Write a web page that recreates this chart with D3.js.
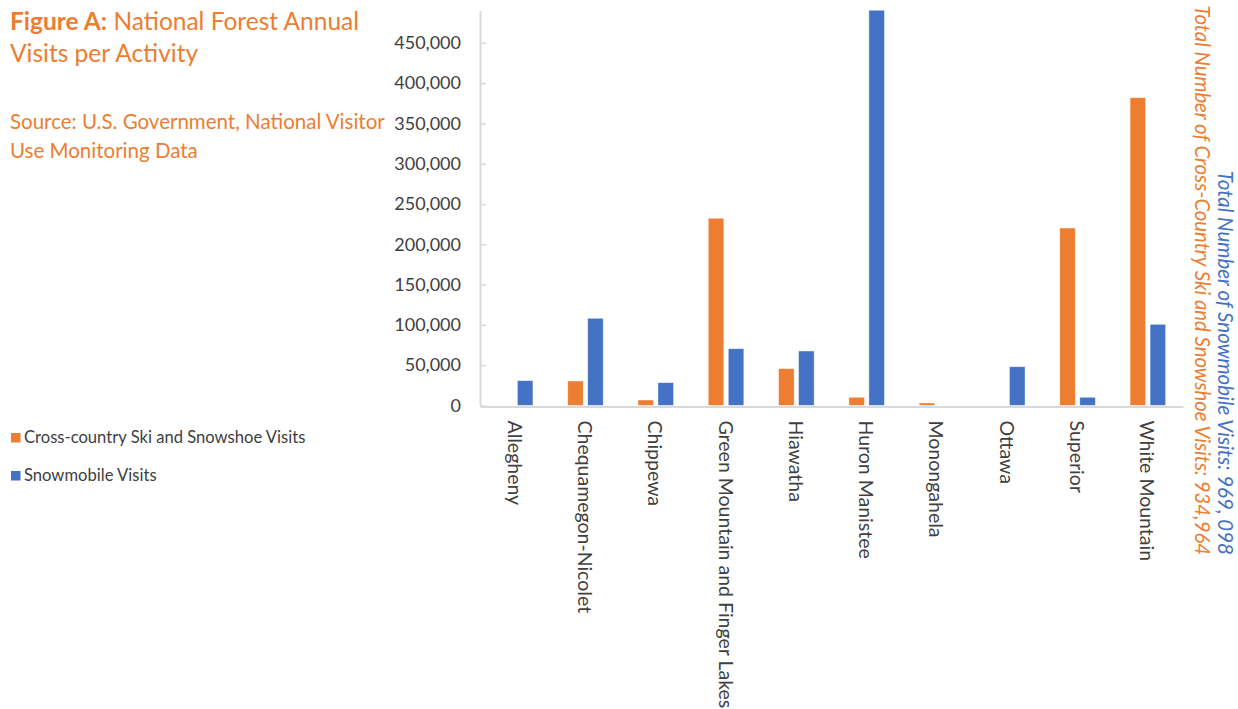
<!DOCTYPE html>
<meta charset="utf-8">
<head>
  <script src="https://d3js.org/d3.v7.min.js"></script>
  <style>
    body { margin: 0; background: #fff; }
    text { font-family: Lato, "Liberation Sans", sans-serif; }
  </style>
</head>
<body>
  <div id="my_dataviz"></div>
</body>
<script>
  // data
  var forests = ["Allegheny", "Chequamegon-Nicolet", "Chippewa", "Green Mountain and Finger Lakes",
    "Hiawatha", "Huron Manistee", "Monongahela", "Ottawa", "Superior", "White Mountain"];
  var skiVisits = [0, 30400, 6800, 232300, 45700, 10200, 3100, 0, 220200, 381900];
  var snowmobileVisits = [30800, 108200, 28300, 70500, 67600, 504700, 0, 48100, 10200, 100700];
  var seriesNames = ["Cross-country Ski and Snowshoe Visits", "Snowmobile Visits"];
  var yTicks = [0, 50000, 100000, 150000, 200000, 250000, 300000, 350000, 400000, 450000];
  var totalSki = "Total Number of Cross-Country Ski and Snowshoe Visits: 934,964";
  var totalSnow = "Total Number of Snowmobile Visits: 969, 098";

  var orange = "#ED7D31", blue = "#4472C4", axisGrey = "#d9d9d9", labelGrey = "#404040";

  var width = 1238, height = 709;
  var plot = { left: 480, right: 1183, top: 10.6, bottom: 405.5 };

  var svg = d3.select("#my_dataviz")
    .append("svg")
    .attr("width", width)
    .attr("height", height);

  // title + source
  var title = svg.append("text").attr("x", 10).attr("y", 30)
    .attr("fill", orange).style("font-size", "24.5px");
  title.append("tspan").style("font-weight", "bold").text("Figure A:");
  title.append("tspan").text(" National Forest Annual");
  svg.append("text").attr("x", 10).attr("y", 62).attr("fill", orange)
    .style("font-size", "24.5px").text("Visits per Activity");
  svg.append("text").attr("x", 10).attr("y", 129).attr("fill", orange)
    .style("font-size", "20.5px").text("Source: U.S. Government, National Visitor");
  svg.append("text").attr("x", 10).attr("y", 158).attr("fill", orange)
    .style("font-size", "20.5px").text("Use Monitoring Data");

  // scales
  var x = d3.scaleBand().domain(forests).range([plot.left, plot.right]);
  var x1 = d3.scaleBand().domain(seriesNames)
    .range([x.bandwidth() / 2 - 17.75, x.bandwidth() / 2 + 17.75])
    .paddingInner(0.225);
  var y = d3.scaleLinear().domain([0, 490000]).range([plot.bottom, plot.top]);

  svg.append("clipPath").attr("id", "plotclip")
    .append("rect")
    .attr("x", plot.left).attr("y", plot.top)
    .attr("width", plot.right - plot.left).attr("height", plot.bottom - plot.top);

  // bars
  var rows = forests.map(function (f, i) {
    return { forest: f, values: [skiVisits[i], snowmobileVisits[i]] };
  });
  var colors = [orange, blue];
  var groups = svg.append("g").attr("clip-path", "url(#plotclip)")
    .selectAll("g").data(rows).enter().append("g")
    .attr("transform", function (d) { return "translate(" + x(d.forest) + ",0)"; });
  groups.selectAll("rect")
    .data(function (d) { return d.values.map(function (v, k) { return { k: k, v: v }; }); })
    .enter().append("rect")
    .filter(function (d) { return d.v > 0; })
    .attr("x", function (d) { return x1(seriesNames[d.k]); })
    .attr("y", function (d) { return y(d.v); })
    .attr("width", x1.bandwidth())
    .attr("height", function (d) { return y(0) - y(d.v); })
    .attr("fill", function (d) { return colors[d.k]; })
    .attr("stroke", "#fff").attr("stroke-opacity", 0.5).attr("stroke-width", 0.75);

  // y axis
  var yAxis = svg.append("g")
    .attr("transform", "translate(" + plot.left + ",0)")
    .call(d3.axisLeft(y).tickValues(yTicks).tickSize(-6).tickSizeOuter(0).tickPadding(19)
      .tickFormat(d3.format(",")));
  yAxis.select(".domain").attr("stroke", axisGrey).attr("stroke-width", 2);
  yAxis.selectAll(".tick line").attr("stroke", axisGrey).attr("stroke-width", 1.5);
  yAxis.selectAll(".tick text").attr("fill", labelGrey)
    .style("font-size", "18px").style("font-family", "Lato, 'Liberation Sans', sans-serif");

  // x axis
  var xAxis = svg.append("g")
    .attr("transform", "translate(0," + (plot.bottom + 1) + ")")
    .call(d3.axisBottom(x).tickSize(0).tickSizeOuter(0).tickPadding(0));
  xAxis.select(".domain").attr("stroke", axisGrey).attr("stroke-width", 2);
  xAxis.selectAll(".tick text")
    .attr("fill", labelGrey)
    .style("font-size", "19.5px").style("font-family", "Lato, 'Liberation Sans', sans-serif")
    .attr("text-anchor", "start")
    .attr("dy", null).attr("y", 0)
    .attr("dominant-baseline", "central")
    .attr("transform", "translate(0,14) rotate(90)");

  // legend
  var legend = svg.append("g").selectAll("g").data(seriesNames).enter().append("g")
    .attr("transform", function (d, i) { return "translate(11," + (433 + i * 38) + ")"; });
  legend.append("rect").attr("width", 9.5).attr("height", 9.5)
    .attr("fill", function (d, i) { return colors[i]; });
  legend.append("text").attr("x", 13).attr("y", 10)
    .attr("fill", labelGrey).style("font-size", "16.6px").text(function (d) { return d; });

  // totals on the right
  svg.append("text")
    .attr("transform", "translate(1203,555) rotate(90)")
    .attr("text-anchor", "end").attr("dominant-baseline", "central")
    .attr("fill", orange).style("font-style", "italic").style("font-size", "20.3px")
    .text(totalSki);
  svg.append("text")
    .attr("transform", "translate(1226,555) rotate(90)")
    .attr("text-anchor", "end").attr("dominant-baseline", "central")
    .attr("fill", blue).style("font-style", "italic").style("font-size", "20.5px")
    .text(totalSnow);
</script>
